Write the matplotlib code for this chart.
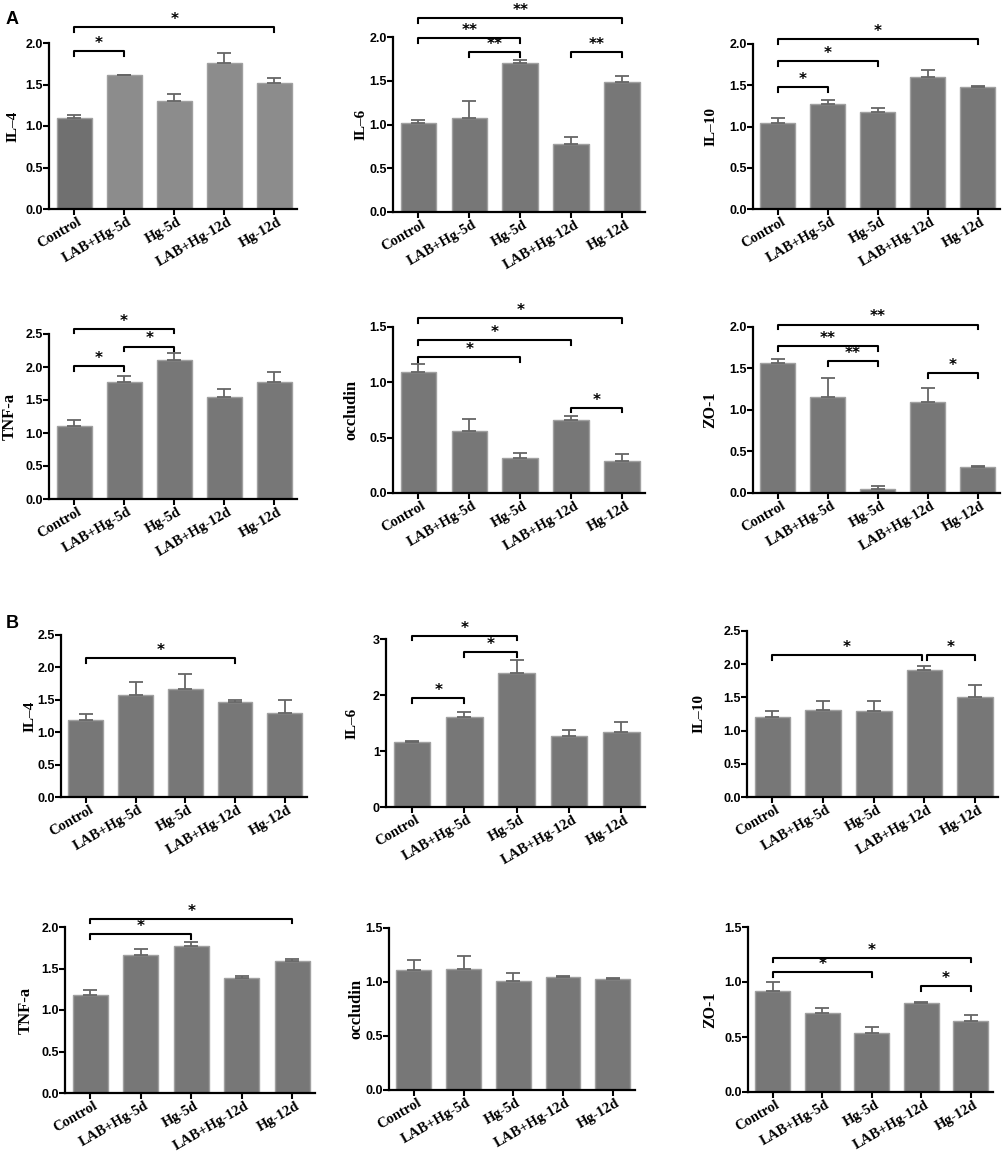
import matplotlib
matplotlib.use("Agg")
import matplotlib.pyplot as plt
from matplotlib.ticker import FormatStrFormatter
from matplotlib.transforms import ScaledTranslation
import numpy as np

groups = ["Control", "LAB+Hg-5d", "Hg-5d", "LAB+Hg-12d", "Hg-12d"]

# ---- panel A : means and upper SEM ----
a_il4 = [1.10, 1.61, 1.30, 1.76, 1.52]
a_il4_err = [0.03, 0.01, 0.08, 0.12, 0.06]
a_il6 = [1.02, 1.08, 1.70, 0.78, 1.49]
a_il6_err = [0.03, 0.19, 0.04, 0.08, 0.07]
a_il10 = [1.04, 1.27, 1.18, 1.60, 1.48]
a_il10_err = [0.06, 0.05, 0.04, 0.09, 0.005]
a_tnf = [1.10, 1.77, 2.11, 1.55, 1.78]
a_tnf_err = [0.10, 0.10, 0.10, 0.12, 0.15]
a_occ = [1.09, 0.56, 0.32, 0.66, 0.29]
a_occ_err = [0.08, 0.11, 0.04, 0.04, 0.06]
a_zo1 = [1.57, 1.16, 0.05, 1.10, 0.31]
a_zo1_err = [0.05, 0.23, 0.04, 0.16, 0.01]

# ---- panel B ----
b_il4 = [1.19, 1.57, 1.67, 1.47, 1.29]
b_il4_err = [0.09, 0.20, 0.23, 0.03, 0.21]
b_il6 = [1.16, 1.61, 2.39, 1.26, 1.34]
b_il6_err = [0.02, 0.09, 0.23, 0.11, 0.17]
b_il10 = [1.21, 1.31, 1.29, 1.91, 1.50]
b_il10_err = [0.08, 0.14, 0.16, 0.07, 0.18]
b_tnf = [1.18, 1.66, 1.77, 1.38, 1.59]
b_tnf_err = [0.06, 0.08, 0.05, 0.03, 0.03]
b_occ = [1.11, 1.12, 1.01, 1.05, 1.03]
b_occ_err = [0.09, 0.12, 0.07, 0.01, 0.005]
b_zo1 = [0.915, 0.72, 0.54, 0.81, 0.65]
b_zo1_err = [0.085, 0.04, 0.05, 0.01, 0.05]

# significance brackets: (from group, to group, height, mark)
a_il4_sig = [(0, 1, 1.90, "*"), (0, 4, 2.19, "*")]
a_il6_sig = [(0, 2, 1.99, "**"), (1, 2, 1.83, "**"), (3, 4, 1.83, "**"), (0, 4, 2.22, "**")]
a_il10_sig = [(0, 1, 1.48, "*"), (0, 2, 1.79, "*"), (0, 4, 2.06, "*")]
a_tnf_sig = [(0, 1, 2.01, "*"), (1, 2, 2.31, "*"), (0, 2, 2.58, "*")]
a_occ_sig = [(0, 2, 1.23, "*"), (0, 3, 1.38, "*"), (0, 4, 1.58, "*"), (3, 4, 0.77, "*")]
a_zo1_sig = [(0, 2, 1.77, "**"), (1, 2, 1.59, "**"), (3, 4, 1.44, "*"), (0, 4, 2.03, "**")]
b_il4_sig = [(0, 3, 2.14, "*")]
b_il6_sig = [(0, 1, 1.94, "*"), (1, 2, 2.76, "*"), (0, 2, 3.06, "*")]
b_il10_sig = [(0, 2.95, 2.14, "*"), (3.05, 4, 2.14, "*")]
b_tnf_sig = [(0, 2, 1.91, "*"), (0, 4, 2.10, "*")]
b_occ_sig = []
b_zo1_sig = [(0, 2, 1.09, "*"), (0, 4, 1.22, "*"), (3, 4, 0.96, "*")]

W, H = 1005, 1154
fig = plt.figure(figsize=(W / 100, H / 100), dpi=100)

sans = "Liberation Sans"
serif = "Liberation Serif"
label_size = {"IL\u20134": 11, "IL\u20136": 11, "IL\u201310": 11,
              "TNF-a": 12, "occludin": 12, "ZO-1": 11.5}

# values, errors, sig, ylabel, ymax, step, (left, right, y0, ytop) px, ylabel right edge px
panels = [
    (a_il4, a_il4_err, a_il4_sig, "IL\u20134", 2.0, 0.5, (49, 297, 209, 43), 20),
    (a_il6, a_il6_err, a_il6_sig, "IL\u20136", 2.0, 0.5, (393, 645, 212, 37), 368),
    (a_il10, a_il10_err, a_il10_sig, "IL\u201310", 2.0, 0.5, (753, 1000, 209, 44), 718),
    (a_tnf, a_tnf_err, a_tnf_sig, "TNF-a", 2.5, 0.5, (49, 297, 499, 334), 18),
    (a_occ, a_occ_err, a_occ_sig, "occludin", 1.5, 0.5, (393, 645, 493, 327), 359),
    (a_zo1, a_zo1_err, a_zo1_sig, "ZO-1", 2.0, 0.5, (753, 1000, 493, 327), 718),
    (b_il4, b_il4_err, b_il4_sig, "IL\u20134", 2.5, 0.5, (61, 307, 797, 635), 37),
    (b_il6, b_il6_err, b_il6_sig, "IL\u20136", 3, 1, (386, 645, 807, 639), 359),
    (b_il10, b_il10_err, b_il10_sig, "IL\u201310", 2.5, 0.5, (747, 998, 797, 631), 706),
    (b_tnf, b_tnf_err, b_tnf_sig, "TNF-a", 2.0, 0.5, (65, 315, 1093, 927), 34),
    (b_occ, b_occ_err, b_occ_sig, "occludin", 1.5, 0.5, (389, 635, 1090, 928), 364),
    (b_zo1, b_zo1_err, b_zo1_sig, "ZO-1", 1.5, 0.5, (748, 993, 1092, 927), 718),
]

x = np.arange(len(groups))
shift = ScaledTranslation(3 / 100, 0, fig.dpi_scale_trans)

for k, (vals, errs, sig, ylab, ymax, step, rect, lab_x) in enumerate(panels):
    l, r, y0, yt = rect
    ax = fig.add_axes([l / W, 1 - y0 / H, (r - l) / W, (y0 - yt) / H])
    colors = ["#777777"] * 5
    if k == 0:
        colors = ["#707070"] + ["#8c8c8c"] * 4
    ax.bar(x, vals, width=0.7, color=colors, edgecolor="#a0a0a0", linewidth=1, zorder=2)
    ax.errorbar(x, vals, yerr=[np.zeros(5), errs], fmt="none", ecolor="#666666",
                elinewidth=1.3, capsize=5, capthick=1.3, zorder=3)
    ax.set_xlim(-0.5, 4.45)
    ax.set_ylim(0, ymax)
    ax.set_yticks(np.arange(0, ymax + 1e-6, step))
    if step == 1:
        ax.yaxis.set_major_formatter(FormatStrFormatter("%d"))
    else:
        ax.yaxis.set_major_formatter(FormatStrFormatter("%.1f"))
    for s in ["top", "right"]:
        ax.spines[s].set_visible(False)
    for s in ["left", "bottom"]:
        ax.spines[s].set_linewidth(1.6)
    ax.tick_params(axis="both", direction="out", length=4, width=1.5, pad=0.5)
    ax.set_xticks(x)
    ax.set_xticklabels(groups, rotation=30, ha="right", rotation_mode="anchor",
                       fontfamily=serif, fontweight="bold", fontsize=10.5)
    for t in ax.get_xticklabels():
        t.set_transform(t.get_transform() + shift)
    for t in ax.get_yticklabels():
        t.set_fontfamily(sans)
        t.set_fontweight("bold")
        t.set_fontsize(9)
    ax.set_ylabel(ylab, fontfamily=serif, fontweight="bold", fontsize=label_size[ylab])
    ax.yaxis.set_label_coords((lab_x - l) / (r - l), 0.5)

    drop = 0.028 * ymax
    for i, j, h, mark in sig:
        ax.plot([i, i, j, j], [h - drop, h, h, h - drop], color="black", lw=1.5,
                clip_on=False, zorder=4)
        ax.annotate(mark, xy=((i + j) / 2, h), xytext=(0, 5.5), textcoords="offset points",
                    ha="center", va="center", fontsize=11, fontweight="bold",
                    fontfamily="DejaVu Sans", annotation_clip=False)

fig.text(12 / W, 1 - 20 / H, "A", fontfamily=sans, fontweight="bold", fontsize=13,
         ha="center", va="center")
fig.text(12 / W, 1 - 623 / H, "B", fontfamily=sans, fontweight="bold", fontsize=13,
         ha="center", va="center")

fig.savefig("out.png", dpi=100, facecolor="white")
